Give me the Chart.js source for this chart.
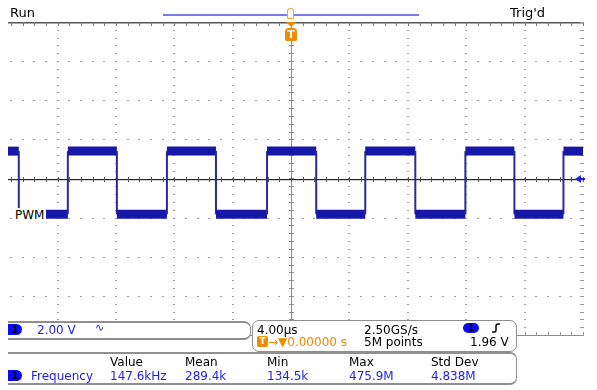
<!DOCTYPE html>
<html><head><meta charset="utf-8">
<script src="https://cdn.jsdelivr.net/npm/chart.js@4/dist/chart.umd.min.js"></script>
<style>
html,body{margin:0;padding:0;background:#fff;}
#wrap{position:relative;width:597px;height:390px;overflow:hidden;font-family:"DejaVu Sans",Verdana,sans-serif;}
canvas{position:absolute;left:0;top:0;}
.t{position:absolute;white-space:nowrap;line-height:14px;height:14px;font-size:12px;}
.blue{color:#1f1fe6;}
.orange{color:#f08a00;}
.badge{position:absolute;width:14px;height:11px;background:#0a0aff;border-radius:0 6px 6px 0;color:#000;font-size:10px;font-weight:bold;text-align:center;line-height:11px;}
.panel{position:absolute;background:#fff;box-sizing:border-box;}
</style></head><body>
<div id="wrap">
<canvas id="c" width="597" height="390"></canvas>
<div class="t" style="left:10px;top:6px;font-size:13px;">Run</div>
<div class="t" style="left:510px;top:6px;font-size:13px;">Trig'd</div>
<div style="position:absolute;left:163px;top:14px;width:256px;height:2px;background:#7878f0;"></div>
<div style="position:absolute;left:287px;top:8px;width:7px;height:11px;border:1px solid #f0a040;border-radius:3px 3px 1px 1px;background:#fff6e8;box-sizing:border-box;"></div>
<div style="position:absolute;left:286px;top:22px;width:0;height:0;border-left:5px solid transparent;border-right:5px solid transparent;border-top:5px solid #f08a00;"></div>
<div style="position:absolute;left:285px;top:28px;width:12px;height:13px;background:#f08a00;border-radius:4px 4px 2px 2px;color:#fff;font-size:11px;font-weight:bold;text-align:center;line-height:13px;">T</div>
<div class="t" style="left:14px;top:208px;width:31px;padding-left:1px;background:#fff;">PWM</div>
<div style="position:absolute;left:575px;top:175px;width:0;height:0;border-top:4px solid transparent;border-bottom:4px solid transparent;border-right:6px solid #1f1fe6;"></div>
<div style="position:absolute;left:579px;top:178px;width:6px;height:2px;background:#1f1fe6;"></div>

<div class="panel" style="left:8px;top:321px;width:243px;height:19px;border-top:2px solid #8f8f8f;border-bottom:2px solid #8f8f8f;border-right:1.5px solid #8f8f8f;border-radius:0 7px 7px 0;"></div>
<div class="badge" style="left:8px;top:324px;">1</div>
<div class="t blue" style="left:37px;top:323px;">2.00 V</div>
<div class="t blue" style="left:95px;top:321px;font-size:11px;">∿</div>

<div class="panel" style="left:252px;top:320px;width:265px;height:32px;border:1.5px solid #8f8f8f;border-radius:7px;"></div>
<div class="t" style="left:257px;top:323px;">4.00µs</div>
<div style="position:absolute;left:257px;top:336px;width:11px;height:11px;background:#f08a00;border-radius:2px;color:#fff;font-size:9px;font-weight:bold;text-align:center;line-height:11px;">T</div>
<div class="t orange" style="left:268px;top:335px;">→▼0.00000 s</div>
<div class="t" style="left:364px;top:323px;">2.50GS/s</div>
<div class="t" style="left:364px;top:335px;">5M points</div>
<div style="position:absolute;left:463px;top:323px;width:16px;height:10px;background:#0a0aff;border-radius:6px;color:#000;font-size:9px;font-weight:bold;text-align:center;line-height:10px;">1</div>
<svg style="position:absolute;left:490px;top:321px;" width="12" height="14"><path d="M2 11 L5 11 Q6 11 6 9 L6 5 Q6 3 8 3 L10 3" stroke="#000" stroke-width="1.5" fill="none"/></svg>
<div class="t" style="left:470px;top:335px;">1.96 V</div>

<div class="panel" style="left:8px;top:352px;width:509px;height:33px;border-top:2px solid #8f8f8f;border-bottom:2px solid #8f8f8f;border-right:1.5px solid #8f8f8f;border-radius:0 7px 7px 0;"></div>
<div id="meas"></div>
</div>
<script>
// ---- data ----
const edgeTimesUs = [-18.66, -15.30, -11.94, -8.51, -5.15, -1.65, 1.72, 5.08, 8.51, 11.94, 15.30, 18.66];
const levelsV = [1.40, -1.83, 1.40, -1.83, 1.40, -1.83, 1.40, -1.83, 1.40, -1.83, 1.40, -1.83, 1.40];
const timeRangeUs = [-19.4, 20];
const voltRange = [-8, 8];
const majorTimeStepUs = 4;
const majorVoltStep = 2;
const measHeaders = ['Value', 'Mean', 'Min', 'Max', 'Std Dev'];
const measValues = ['147.6kHz', '289.4k', '134.5k', '475.9M', '4.838M'];
const measName = 'Frequency';

// ---- measurement table text ----
const measX = [110, 185, 267, 349, 431];
let html = '<div class="badge" style="left:8px;top:370px;">1</div>' +
  '<div class="t blue" style="left:31px;top:369px;">' + measName + '</div>';
measHeaders.forEach((h, i) => { html += '<div class="t" style="left:' + measX[i] + 'px;top:355px;">' + h + '</div>'; });
measValues.forEach((v, i) => { html += '<div class="t blue" style="left:' + measX[i] + 'px;top:369px;">' + v + '</div>'; });
document.getElementById('meas').innerHTML = html;

// ---- build step trace ----
const pts = [{x: timeRangeUs[0], y: levelsV[0]}];
edgeTimesUs.forEach((t, i) => {
  pts.push({x: t, y: levelsV[i]});
  pts.push({x: t, y: levelsV[i + 1]});
});
pts.push({x: timeRangeUs[1], y: levelsV[levelsV.length - 1]});

const graticule = {
  id: 'graticule',
  beforeDatasetsDraw(chart) {
    const {ctx, chartArea: a, scales: {x, y}} = chart;
    ctx.save();
    const minorT = majorTimeStepUs / 5, minorV = majorVoltStep / 5;
    ctx.fillStyle = '#a0a0a0';
    for (let t = Math.ceil(timeRangeUs[0] / majorTimeStepUs) * majorTimeStepUs; t <= timeRangeUs[1] + 1e-6; t += majorTimeStepUs) {
      if (Math.abs(t) < 1e-6) continue;
      const px = Math.round(x.getPixelForValue(t));
      for (let v = voltRange[0]; v <= voltRange[1] + 1e-6; v += minorV) {
        const py = Math.round(y.getPixelForValue(v));
        ctx.fillRect(px - 1, py, 2, 1);
      }
    }
    for (let v = voltRange[0] + majorVoltStep; v < voltRange[1]; v += majorVoltStep) {
      if (Math.abs(v) < 1e-6) continue;
      const py = Math.round(y.getPixelForValue(v));
      for (let t = Math.ceil(timeRangeUs[0] / minorT) * minorT; t <= timeRangeUs[1] + 1e-6; t += minorT) {
        const px = Math.round(x.getPixelForValue(t));
        ctx.fillRect(px - 1, py, 2, 1);
      }
    }
    ctx.fillStyle = '#555';
    ctx.fillRect(a.left, a.top, a.right - a.left, 1.5);
    for (let t = Math.ceil(timeRangeUs[0] / minorT) * minorT; t <= timeRangeUs[1] + 1e-6; t += minorT) {
      const px = Math.round(x.getPixelForValue(t));
      ctx.fillStyle = '#777';
      ctx.fillRect(px, a.top, 1, 4);
    }
    ctx.fillStyle = '#999';
    for (let v = voltRange[0]; v <= voltRange[1] + 1e-6; v += minorV) {
      const py = Math.round(y.getPixelForValue(v));
      ctx.fillRect(a.right - 3, py, 4, 1);
    }
    for (let t = Math.ceil(timeRangeUs[0] / minorT) * minorT; t <= timeRangeUs[1] + 1e-6; t += minorT) {
      const px = Math.round(x.getPixelForValue(t));
      ctx.fillRect(px, a.bottom - 3, 1, 3);
    }
    ctx.fillStyle = '#8a8aa8';
    ctx.fillRect(a.left, a.bottom, a.right - a.left, 1);
    const cx = Math.round(x.getPixelForValue(0));
    ctx.fillStyle = '#8a8a8a';
    ctx.fillRect(cx, a.top, 1, a.bottom - a.top);
    for (let v = voltRange[0]; v <= voltRange[1] + 1e-6; v += minorV) {
      const py = Math.round(y.getPixelForValue(v));
      ctx.fillRect(cx - 2, py, 5, 1);
    }
    const cy = Math.round(y.getPixelForValue(0));
    ctx.fillStyle = '#222';
    ctx.fillRect(a.left, cy, a.right - a.left, 1.2);
    ctx.fillStyle = '#555';
    for (let t = Math.ceil(timeRangeUs[0] / minorT) * minorT; t <= timeRangeUs[1] + 1e-6; t += minorT) {
      const px = Math.round(x.getPixelForValue(t));
      ctx.fillRect(px, cy - 2, 1, 5);
    }
    ctx.restore();
  }
};

new Chart(document.getElementById('c'), {
  type: 'line',
  data: {
    datasets: [{
      data: pts,
      borderColor: '#1818a8',
      borderWidth: 8,
      pointRadius: 0,
      fill: false,
      tension: 0,
      segment: {
        borderWidth: c => (c.p0.parsed.x === c.p1.parsed.x ? 2 : 9),
        borderColor: c => (c.p0.parsed.x === c.p1.parsed.x ? '#2a2a9a' : '#1818a8')
      }
    }]
  },
  options: {
    responsive: false,
    animation: false,
    devicePixelRatio: 1,
    layout: {padding: {left: 8, right: 14, top: 22, bottom: 55}},
    plugins: {legend: {display: false}, tooltip: {enabled: false}},
    scales: {
      x: {type: 'linear', min: timeRangeUs[0], max: timeRangeUs[1], display: false},
      y: {type: 'linear', min: voltRange[0], max: voltRange[1], display: false}
    }
  },
  plugins: [graticule]
});
</script>
</body></html>
